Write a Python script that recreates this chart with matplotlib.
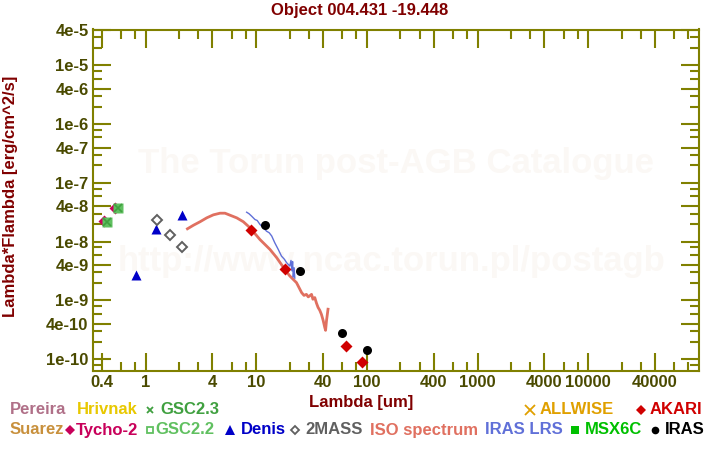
import matplotlib
matplotlib.use("Agg")
import matplotlib.pyplot as plt
from matplotlib.lines import Line2D
from matplotlib.ticker import FixedLocator, NullFormatter, FixedFormatter

plt.rcParams['font.family'] = ['Liberation Sans', 'DejaVu Sans']
plt.rcParams['font.weight'] = 'bold'

# ---------------- data ----------------
title = "Object 004.431 -19.448"

tycho_x = [0.42, 0.53]
tycho_y = [2.24e-8, 3.78e-8]

gsc22_x = [0.445, 0.565]
gsc22_y = [2.2e-8, 3.8e-8]
gsc23_x = [0.445, 0.565]
gsc23_y = [2.2e-8, 3.8e-8]

denis_x = [0.825, 1.25, 2.14]
denis_y = [2.75e-9, 1.66e-8, 2.8e-8]

mass2_x = [1.256, 1.68, 2.15]
mass2_y = [2.3e-8, 1.28e-8, 8.2e-9]

akari_x = [9.0, 18.2, 65.0, 90.0]
akari_y = [1.57e-8, 3.48e-9, 1.65e-10, 8.8e-11]

iras_x = [12.0, 25.0, 60.0, 100.0]
iras_y = [1.94e-8, 3.2e-9, 2.74e-10, 1.41e-10]

iso_x = [2.39, 2.71, 3.11, 3.57, 4.10, 4.71, 5.22, 5.79, 6.66, 7.64, 8.77,
         10.8, 13.3, 15.3, 18.1, 20.1, 23.1, 25.7, 27.0, 28.4, 29.5, 31.6,
         32.5, 33.8, 35.0, 36.2, 37.5, 38.8, 40.2, 41.6, 42.3, 43.1, 44.5]
iso_y = [1.66e-8, 1.91e-8, 2.19e-8, 2.55e-8, 2.87e-8, 3.06e-8, 3.06e-8, 2.83e-8,
         2.55e-8, 2.19e-8, 1.73e-8, 1.09e-8, 7.4e-9, 5.35e-9, 3.39e-9, 2.61e-9,
         2.01e-9, 1.36e-9, 1.22e-9, 1.27e-9, 1.15e-9, 1.27e-9, 1.05e-9, 1.12e-9,
         9.0e-10, 7.6e-10, 6.8e-10, 5.8e-10, 4.6e-10, 3.47e-10, 3.1e-10, 4.49e-10, 7.1e-10]

lrs_x = [8.19, 8.6, 9.09, 9.73, 10.2, 10.8, 11.5, 12.4, 13.1, 13.8, 14.7, 15.8,
         16.9, 18.0, 18.8, 20.1, 20.6, 21.0, 21.3, 21.6, 22.0, 22.3]
lrs_y = [3.18e-8, 3.0e-8, 2.72e-8, 2.39e-8, 2.3e-8, 1.97e-8, 1.75e-8, 1.51e-8,
         1.42e-8, 1.25e-8, 9.6e-9, 7.4e-9, 5.7e-9, 5.0e-9, 4.4e-9, 3.85e-9,
         4.8e-9, 3.2e-9, 4.6e-9, 2.5e-9, 3.6e-9, 2.4e-9]

x_major = [0.4, 1, 4, 10, 40, 100, 400, 1000, 4000, 10000, 40000]
x_major_labels = ["0.4", "1", "4", "10", "40", "100", "400", "1000", "4000", "10000", "40000"]
x_minor = [0.6, 0.8, 2, 3, 6, 8, 20, 30, 60, 80, 200, 300, 600, 800,
           2000, 3000, 6000, 8000, 20000, 30000, 60000, 80000]
y_major = [1e-10, 4e-10, 1e-9, 4e-9, 1e-8, 4e-8, 1e-7, 4e-7, 1e-6, 4e-6, 1e-5, 4e-5]
y_major_labels = ["1e-10", "4e-10", "1e-9", "4e-9", "1e-8", "4e-8", "1e-7", "4e-7",
                  "1e-6", "4e-6", "1e-5", "4e-5"]
y_minor = []
for e in range(-11, -4):
    for m in (2, 3, 6, 8):
        y_minor.append(m * 10.0 ** e)

# ---------------- figure ----------------
W, H = 720, 450
FS = 12
fig = plt.figure(figsize=(7.2, 4.5), dpi=100)
ax = fig.add_axes([92.7 / W, 1 - 371 / H, (699 - 92.7) / W, (371 - 29.5) / H])
ax.set_xscale('log')
ax.set_yscale('log')
ax.set_xlim(0.333, 1.0e5)
ax.set_ylim(6.3e-11, 4.1e-5)

olive = '#808000'
lab = '#4a4a00'
dred = '#800000'
for s in ax.spines.values():
    s.set_color(olive)
    s.set_linewidth(1.5)

ax.xaxis.set_major_locator(FixedLocator(x_major))
ax.xaxis.set_major_formatter(FixedFormatter(x_major_labels))
ax.xaxis.set_minor_locator(FixedLocator(x_minor))
ax.xaxis.set_minor_formatter(NullFormatter())
ax.yaxis.set_major_locator(FixedLocator(y_major))
ax.yaxis.set_major_formatter(FixedFormatter(y_major_labels))
ax.yaxis.set_minor_locator(FixedLocator(y_minor))
ax.yaxis.set_minor_formatter(NullFormatter())
ax.tick_params(which='both', direction='in', top=True, right=True, color=olive, width=1.5,
               labelcolor=lab, labelsize=FS)
ax.tick_params(which='major', length=13, pad=3)
ax.tick_params(which='minor', length=6.5)
for t in ax.get_xticklabels() + ax.get_yticklabels():
    t.set_fontweight('bold')

# watermark
wm = '#fbf8f5'
ax.text(0.5, 1 - (163 - 29.5) / (371 - 29.5), "The Torun post-AGB Catalogue", transform=ax.transAxes,
        ha='center', va='center', fontsize=25, color=wm, fontweight='bold', zorder=0)
ax.text(0.493, 1 - (262 - 29.5) / (371 - 29.5), "http://www.ncac.torun.pl/postagb", transform=ax.transAxes,
        ha='center', va='center', fontsize=25, color=wm, fontweight='bold', zorder=0)

# data
ax.plot(iso_x, iso_y, color='#e07060', lw=2.0, zorder=2)
ax.plot(lrs_x, lrs_y, color='#6070d8', lw=1.0, zorder=3)
ax.plot(tycho_x, tycho_y, 'D', color='#c8005a', ms=6.5, mec='none', zorder=4)
ax.plot(gsc22_x, gsc22_y, 's', color='#60c060', ms=7, mec='none', zorder=5)
ax.plot(gsc23_x, gsc23_y, 'x', color='#40a040', ms=5.5, mew=1.2, zorder=6)
ax.plot(denis_x, denis_y, '^', color='#0000c8', ms=7, mec='none', zorder=5)
ax.plot(mass2_x, mass2_y, 'D', mfc='none', mec='#606060', ms=5.5, mew=1.4, zorder=5)
ax.plot(akari_x, akari_y, 'D', color='#d00000', ms=6.5, mec='none', zorder=6)
ax.plot(iras_x, iras_y, 'o', color='black', ms=6.5, mec='none', zorder=6)

# titles
fig.text(360 / W, 1 - 11 / H, title, ha='center', va='center', fontsize=FS, color=dred, fontweight='bold')
fig.text(361 / W, 1 - 403 / H, "Lambda [um]", ha='center', va='center', fontsize=FS, color=dred, fontweight='bold')
fig.text(11 / W, 1 - 196 / H, "Lambda*Flambda [erg/cm^2/s]", ha='center', va='center', rotation=90,
         fontsize=FS, color=dred, fontweight='bold')

# legend
def ltext(x, y, s, c):
    fig.text(x / W, 1 - y / H, s, ha='left', va='center', fontsize=FS, color=c, fontweight='bold')

def lmark(x, y, m, c, ms, filled=True, mew=1.3):
    if filled:
        fig.add_artist(Line2D([x / W], [1 - y / H], marker=m, color=c, ms=ms, mec='none' if m not in 'x+' else c,
                              mew=mew, transform=fig.transFigure))
    else:
        fig.add_artist(Line2D([x / W], [1 - y / H], marker=m, mfc='none', mec=c, ms=ms, mew=mew,
                              transform=fig.transFigure))

r1, r2 = 410, 430
ltext(10, r1, "Pereira", '#b07088')
ltext(77, r1, "Hrivnak", '#e8c800')
lmark(150, r1, 'x', '#40a040', 5)
ltext(160, r1, "GSC2.3", '#40a040')
lmark(530, r1, 'x', '#e0a000', 6.5)
ltext(540, r1, "ALLWISE", '#e0a000')
lmark(641, r1, 'D', '#d00000', 5.5)
ltext(650, r1, "AKARI", '#d00000')

ltext(10, r2, "Suarez", '#c8903c')
lmark(70, r2, 'D', '#c8005a', 5)
ltext(76, r2, "Tycho-2", '#c8005a')
lmark(150, r2, 's', '#60c060', 4.5, filled=False)
ltext(155, r2, "GSC2.2", '#60c060')
lmark(230, r2, '^', '#0000c8', 7)
ltext(241, r2, "Denis", '#0000c8')
lmark(295, r2, 'D', '#606060', 4.5, filled=False)
ltext(305, r2, "2MASS", '#606060')
ltext(370, r2, "ISO spectrum", '#e07060')
ltext(485, r2, "IRAS LRS", '#6070d8')
lmark(575, r2, 's', '#00c000', 5.5)
ltext(585, r2, "MSX6C", '#00c000')
lmark(655, r2, 'o', 'black', 5.5)
ltext(665, r2, "IRAS", 'black')

fig.savefig('out.png', dpi=100)
